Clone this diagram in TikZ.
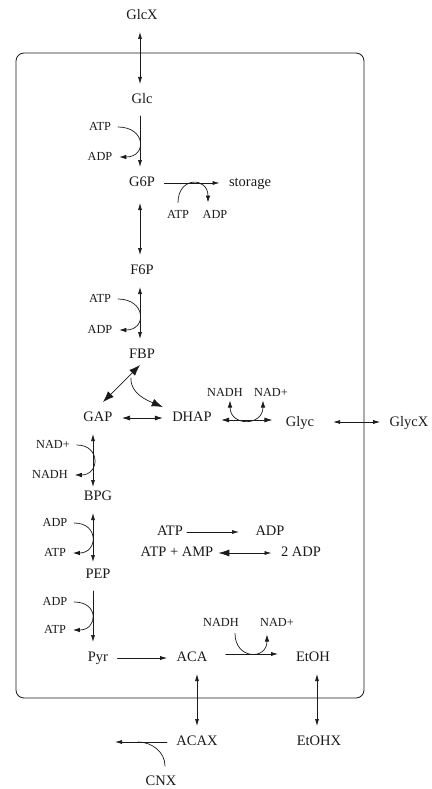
\documentclass[tikz,border=0pt]{standalone}
\usepackage{fontspec}
\setmainfont{Liberation Serif}
\usetikzlibrary{arrows.meta}
\definecolor{cInk}{HTML}{1A1A1A}

\begin{document}
\begin{tikzpicture}[
  x=1pt, y=-1pt,
  font=\rmfamily\fontsize{14.5}{16}\selectfont,
  line cap=round, line join=round,
  met/.style={inner sep=0pt, outer sep=9.5pt, text height=10pt,
    text depth=3pt, text=cInk},
  cof/.style={met, outer sep=7pt, text height=8.5pt, text depth=2.5pt,
    font=\rmfamily\fontsize{12.3}{14}\selectfont},
  rxn/.style={draw=cInk, line width=0.7pt, -{Latex[length=7pt,width=4pt]}},
  revrxn/.style={draw=cInk, line width=0.7pt,
    {Latex[length=7pt,width=4pt]}-{Latex[length=7pt,width=4pt]}},
  midrev/.style={draw=cInk, line width=0.7pt,
    {Latex[length=8pt,width=5pt]}-{Latex[length=8pt,width=5pt]}},
  bigrev/.style={draw=cInk, line width=0.7pt,
    {Latex[length=11pt,width=8pt]}-{Latex[length=11pt,width=8pt]}},
  bigrxn/.style={draw=cInk, line width=0.7pt, -{Latex[length=11pt,width=8pt]}},
  amprev/.style={draw=cInk, line width=0.7pt,
    {Latex[length=11pt,width=7pt]}-{Latex[length=7pt,width=4pt]}},
  cofarc/.style={draw=cInk, line width=0.7pt},
  cofrxn/.style={cofarc, -{Latex[length=7pt,width=4.5pt]}},
  cofboth/.style={cofarc,
    {Latex[length=7pt,width=4.5pt]}-{Latex[length=7pt,width=4.5pt]}},
]
\useasboundingbox (0,0) rectangle (431,789);

% ---- Cell wall ----
\draw[cInk, line width=0.8pt, rounded corners=8pt] (16,53) rectangle (364,698);

% ---- Metabolites ----
\node[met] (GlcX) at (142,16) {GlcX};
\node[met] (Glc) at (142,100) {Glc};
\node[met] (G6P) at (142,183) {G6P};
\node[met] (storage) at (250,183) {storage};
\node[met] (F6P) at (142,271) {F6P};
\node[met] (FBP) at (142,355) {FBP};
\node[met] (GAP) at (98,418) {GAP};
\node[met] (DHAP) at (192,418) {DHAP};
\node[met] (Glyc) at (300,423) {Glyc};
\node[met] (GlycX) at (409,423) {GlycX};
\node[met] (BPG) at (98,497) {BPG};
\node[met] (PEP) at (98,575) {PEP};
\node[met] (Pyr) at (98,658) {Pyr};
\node[met] (ACA) at (192,658) {ACA};
\node[met] (EtOH) at (313,658) {EtOH};
\node[met] (ACAX) at (197,742) {ACAX};
\node[met] (EtOHX) at (319,742) {EtOHX};
\node[met] (CNX) at (161,782) {CNX};

% ---- ATP balance ----
\node[met] (atpUse) at (170,532) {ATP};
\node[met] (adpUse) at (270,532) {ADP};
\node[met] (atpAmp) at (177,553) {ATP + AMP};
\node[met] (adpTwo) at (301,553) {2 ADP};

% ---- Cofactors ----
\node[cof] (atpHK) at (100,127) {ATP};
\node[cof] (adpHK) at (100,157) {ADP};
\node[cof] (atpGS) at (178,215) {ATP};
\node[cof] (adpGS) at (215,215) {ADP};
\node[cof] (atpPFK) at (100,299) {ATP};
\node[cof] (adpPFK) at (100,330) {ADP};
\node[cof] (nadGD) at (53,445) {NAD+};
\node[cof] (nadhGD) at (50,475) {NADH};
\node[cof] (adpPGK) at (55,523) {ADP};
\node[cof] (atpPGK) at (55,553) {ATP};
\node[cof] (adpPK) at (55,602) {ADP};
\node[cof] (atpPK) at (55,630) {ATP};
\node[cof] (nadhGly) at (225,393) {NADH};
\node[cof] (nadGly) at (271,393) {NAD+};
\node[cof] (nadhADH) at (221,623) {NADH};
\node[cof] (nadADH) at (277,623) {NAD+};

% ---- Upper glycolysis ----
\draw[revrxn] ([xshift=-2pt]GlcX.south) -- ([xshift=-2pt]Glc.north);
\draw[rxn] ([xshift=-2pt]Glc.south) -- ([xshift=-2pt]G6P.north);
\draw[rxn] (G6P.east) -- (storage.west);
\draw[revrxn] ([xshift=-2pt,yshift=-4pt]G6P.south) -- ([xshift=-2pt]F6P.north);
\draw[revrxn] ([xshift=-2pt]F6P.south) -- ([xshift=-2pt]FBP.north);
\draw[bigrev] ([xshift=-2pt,yshift=6pt]FBP.south) -- ([xshift=5pt]GAP.north);
\draw[bigrxn] ([xshift=-11pt,yshift=-7pt]FBP.south)
  .. controls +(-1,16) and +(-14,-6) .. ([yshift=-5pt]DHAP.north west);
\draw[midrev] (GAP.east) -- (DHAP.west);
\draw[midrev, shorten >=4pt] ([yshift=-2pt]DHAP.east) -- ([yshift=3pt]Glyc.west);
\draw[revrxn, shorten <=9.5pt] ([yshift=1pt]Glyc.east) -- ([yshift=1pt]GlycX.west);

% ---- Lower glycolysis ----
\draw[revrxn] ([xshift=-5pt]GAP.south) -- ([xshift=-5pt,yshift=-6pt]BPG.north);
\draw[revrxn] ([xshift=-5pt]BPG.south) -- ([xshift=-5pt,yshift=-3pt]PEP.north);
\draw[rxn] ([xshift=-5pt]PEP.south) -- ([xshift=-5pt]Pyr.north);
\draw[rxn] (Pyr.east) -- (ACA.west);
\draw[rxn, shorten <=9pt, shorten >=8.5pt] ([yshift=4pt]ACA.east) -- ([yshift=4pt]EtOH.west);
\draw[revrxn] ([xshift=5pt]ACA.south) -- (ACAX.north);
\draw[revrxn] ([xshift=4pt]EtOH.south) -- ([xshift=-2pt]EtOHX.north);

% ---- ATP balance arrows ----
\draw[rxn] ([xshift=-5.5pt]atpUse.east) -- ([xshift=-7pt]adpUse.west);
\draw[amprev] ([xshift=-4.5pt]atpAmp.east) -- (adpTwo.west);

% ---- Cyanide trap ----
\coordinate (cnxEnd) at (115,742);
\coordinate (cnxJoin) at (138,742);
\draw[rxn] (ACAX.west) -- (cnxEnd);
\draw[cofarc] ([xshift=4pt]CNX.north) .. controls +(0,-14) and +(14,0) .. (cnxJoin);

% ---- Cofactor arcs ----
\draw[cofrxn] (atpHK.east) .. controls +(28,0) and +(28,0) .. (adpHK.east);
\draw[cofrxn] (atpGS.north) .. controls +(0,-26) and +(0,-26) .. ([xshift=-7pt]adpGS.north);
\draw[cofrxn] (atpPFK.east) .. controls +(28,0) and +(28,0) .. (adpPFK.east);
\draw[cofrxn] (nadGD.east) .. controls +(24,0) and +(25,0) .. (nadhGD.east);
\draw[cofrxn] (adpPGK.east) .. controls +(25,0) and +(25,0) .. (atpPGK.east);
\draw[cofrxn] (adpPK.east) .. controls +(25,0) and +(25,0) .. (atpPK.east);
\draw[cofboth] ([xshift=5pt,yshift=5pt]nadhGly.south)
  .. controls +(0,26) and +(0,26) .. ([xshift=-8pt,yshift=5pt]nadGly.south);
\draw[cofrxn] ([xshift=14pt,yshift=2pt]nadhADH.south)
  .. controls +(0,26) and +(0,26) .. ([xshift=-10pt,yshift=1pt]nadADH.south);

\end{tikzpicture}
\end{document}
